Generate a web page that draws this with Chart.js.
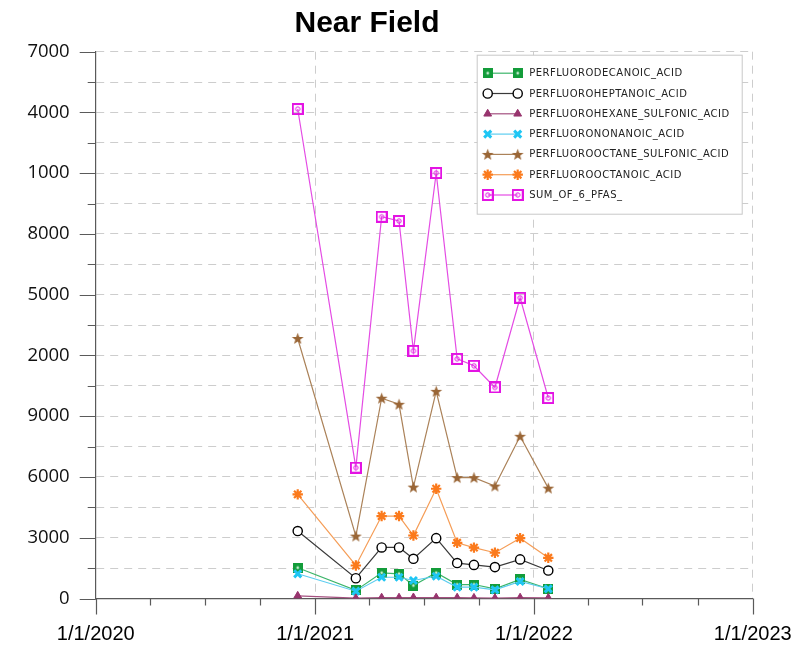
<!DOCTYPE html>
<html>
<head>
<meta charset="utf-8">
<title>Near Field</title>
<script src="https://cdn.jsdelivr.net/npm/chart.js@4.4.1/dist/chart.umd.min.js"></script>
<style>
  html, body { margin: 0; padding: 0; background: #fff; }
  #quadro { width: 811px; height: 650px; overflow: hidden; position: relative; }
  #grafico { position: absolute; left: 27px; top: 0; }
</style>
</head>
<body>
<div id="quadro"><canvas id="grafico" width="784" height="650"></canvas></div>
<script>
// datas das coletas
const datas = ['2020-12-03', '2021-03-10', '2021-04-22', '2021-05-21', '2021-06-14', '2021-07-22',
               '2021-08-26', '2021-09-23', '2021-10-28', '2021-12-09', '2022-01-25'];

// concentrações por composto
const pfda  = [1520, 400, 1270, 1220, 640, 1270, 690, 690, 480, 940, 480];
const pfhpa = [3330, 1000, 2520, 2520, 1960, 2980, 1750, 1660, 1550, 1930, 1380];
const pfhxs = [130, 20, 40, 40, 50, 40, 40, 30, 20, 40, 30];
const pfna  = [1220, 360, 1050, 1050, 890, 1100, 560, 560, 430, 840, 480];
const pfos  = [12840, 3080, 9890, 9590, 5500, 10230, 5970, 5970, 5550, 8010, 5450];
const pfoa  = [5140, 1630, 4070, 4070, 3110, 5420, 2750, 2510, 2260, 2980, 2010];
const soma  = [24170, 6460, 18850, 18640, 12230, 21010, 11830, 11490, 10420, 14850, 9900];

// eixos
const anos = [2020, 2021, 2022, 2023];
const yMax = 27000;
const yPasso = 1500;
const yRotuloPasso = 3000;

function marcador(tam, desenha) {
  const c = document.createElement('canvas');
  c.width = tam;
  c.height = tam;
  desenha(c.getContext('2d'), tam);
  return c;
}

const quadradoVerde = marcador(10, (g, t) => {
  g.fillStyle = '#139c3a';
  g.fillRect(0, 0, t, t);
  g.fillStyle = '#c4ecd0';
  g.beginPath();
  g.arc(t / 2, t / 2, 1.4, 0, Math.PI * 2);
  g.fill();
});

const quadradoMagenta = marcador(12, (g, t) => {
  g.strokeStyle = '#e313e3';
  g.lineWidth = 2;
  g.strokeRect(1, 1, t - 2, t - 2);
  g.lineWidth = 1;
  g.beginPath();
  g.arc(t / 2, t / 2, 2.2, 0, Math.PI * 2);
  g.stroke();
});

const estrela = marcador(13, (g, t) => {
  const c = t / 2, rE = 6.2, rI = 2.6;
  g.fillStyle = '#9a6636';
  g.beginPath();
  for (let i = 0; i < 10; i++) {
    const r = i % 2 === 0 ? rE : rI;
    const ang = -Math.PI / 2 + i * Math.PI / 5;
    g.lineTo(c + r * Math.cos(ang), c + 0.5 + r * Math.sin(ang));
  }
  g.closePath();
  g.fill();
});

const series = [
  { label: 'PERFLUORODECANOIC_ACID', valores: pfda, linha: '#3cb56a', cor: '#139c3a', fundo: '#139c3a', estilo: quadradoVerde, raio: 5, bw: 1 },
  { label: 'PERFLUOROHEPTANOIC_ACID', valores: pfhpa, linha: '#3a3a3a', cor: '#000000', fundo: '#ffffff', estilo: 'circle', raio: 4.6, bw: 1.4 },
  { label: 'PERFLUOROHEXANE_SULFONIC_ACID', valores: pfhxs, linha: '#a4507f', cor: '#98346e', fundo: '#98346e', estilo: 'triangle', raio: 4.5, bw: 1 },
  { label: 'PERFLUORONONANOIC_ACID', valores: pfna, linha: '#5ccdf0', cor: '#1ec6f4', fundo: '#1ec6f4', estilo: 'crossRot', raio: 5, bw: 3 },
  { label: 'PERFLUOROOCTANE_SULFONIC_ACID', valores: pfos, linha: '#ab8259', cor: '#9a6636', fundo: '#9a6636', estilo: estrela, raio: 6, bw: 1 },
  { label: 'PERFLUOROOCTANOIC_ACID', valores: pfoa, linha: '#f59d57', cor: '#fb7a1c', fundo: '#fb7a1c', estilo: 'star', raio: 5.2, bw: 2.2 },
  { label: 'SUM_OF_6_PFAS_', valores: soma, linha: '#e44ce4', cor: '#e313e3', fundo: '#e313e3', estilo: quadradoMagenta, raio: 6, bw: 1 }
];

const tempo = d => Date.parse(d + 'T00:00:00Z');
const inicioAno = a => Date.UTC(a, 0, 1);
const ehAno = v => new Date(v).getUTCMonth() === 0;

// marcas trimestrais no eixo x
const marcasX = [];
for (let a = anos[0]; a < anos[anos.length - 1]; a++) {
  for (let m = 0; m < 12; m += 3) marcasX.push(Date.UTC(a, m, 1));
}
marcasX.push(inicioAno(anos[anos.length - 1]));

const corEixo = '#5a5a5a';
const corGrade = '#cdcdcd';

const titulo = {
  id: 'titulo',
  afterDraw(chart) {
    const ctx = chart.ctx;
    ctx.save();
    ctx.font = 'bold 30px "Liberation Sans", Arial, sans-serif';
    ctx.fillStyle = '#000';
    ctx.textAlign = 'center';
    ctx.textBaseline = 'alphabetic';
    ctx.fillText('Near Field', 340, 31.5);
    ctx.restore();
  }
};

const marcasEixos = {
  id: 'marcasEixos',
  afterDraw(chart) {
    const { ctx, scales: { x, y }, chartArea: a } = chart;
    ctx.save();
    ctx.strokeStyle = corEixo;
    ctx.lineWidth = 1.2;
    ctx.beginPath();
    x.ticks.forEach(t => {
      const px = Math.round(x.getPixelForValue(t.value)) + 0.5;
      const len = ehAno(t.value) ? 16 : 7;
      ctx.moveTo(px, a.bottom);
      ctx.lineTo(px, a.bottom + len);
    });
    y.ticks.forEach(t => {
      const py = Math.round(y.getPixelForValue(t.value)) + 0.5;
      const len = t.value % yRotuloPasso === 0 ? 16 : 8;
      ctx.moveTo(a.left - len, py);
      ctx.lineTo(a.left, py);
    });
    ctx.stroke();
    ctx.restore();
  }
};

const legenda = {
  id: 'legenda',
  afterDraw(chart) {
    const { ctx, chartArea: a } = chart;
    const esq = a.right - 275.5, topo = a.top + 3.5, larg = 265, alt = 159;
    ctx.save();
    ctx.fillStyle = '#fff';
    ctx.fillRect(esq, topo, larg, alt);
    ctx.strokeStyle = '#c8c8c8';
    ctx.lineWidth = 1;
    ctx.strokeRect(esq, topo, larg, alt);
    ctx.font = '10px "DejaVu Sans", Verdana, sans-serif';
    ctx.letterSpacing = '0.5px';
    ctx.textBaseline = 'middle';
    series.forEach((s, i) => {
      const yy = topo + 18 + i * 20.3;
      const x1 = esq + 10.5, x2 = esq + 40.5;
      ctx.strokeStyle = s.linha;
      ctx.lineWidth = 1.2;
      ctx.beginPath();
      ctx.moveTo(x1, yy);
      ctx.lineTo(x2, yy);
      ctx.stroke();
      [x1, x2].forEach(px => {
        ctx.fillStyle = s.fundo;
        ctx.strokeStyle = s.cor;
        ctx.lineWidth = s.bw;
        Chart.helpers.drawPoint(ctx, { pointStyle: s.estilo, radius: s.raio, rotation: 0, borderWidth: s.bw }, px, yy);
      });
      ctx.fillStyle = '#222';
      ctx.fillText(s.label, esq + 52, yy + 0.5);
    });
    ctx.restore();
  }
};

const ctx = document.getElementById('grafico').getContext('2d');
new Chart(ctx, {
  type: 'line',
  data: {
    datasets: series.map((s, i) => ({
      label: s.label,
      data: datas.map((d, k) => ({ x: tempo(d), y: s.valores[k] })),
      borderColor: s.linha,
      borderWidth: 1.2,
      tension: 0,
      pointStyle: s.estilo,
      pointRadius: s.raio,
      pointHoverRadius: s.raio,
      pointBorderWidth: s.bw,
      pointBorderColor: s.cor,
      pointBackgroundColor: s.fundo,
      order: -i
    }))
  },
  options: {
    responsive: false,
    animation: false,
    devicePixelRatio: 1,
    layout: { padding: { top: 51.7, right: 58.3, bottom: 0, left: 0 } },
    plugins: {
      legend: { display: false },
      title: { display: false },
      tooltip: { enabled: false }
    },
    scales: {
      x: {
        type: 'linear',
        min: inicioAno(anos[0]),
        max: inicioAno(anos[anos.length - 1]),
        afterBuildTicks: scale => { scale.ticks = marcasX.map(v => ({ value: v })); },
        afterFit: scale => { scale.height = 51.5; },
        ticks: {
          autoSkip: false,
          maxRotation: 0,
          padding: 8,
          color: '#000',
          font: { family: '"Liberation Sans", Arial, sans-serif', size: 20 },
          callback: v => ehAno(v) ? '1/1/' + new Date(v).getUTCFullYear() : ''
        },
        grid: {
          color: c => (c.tick && ehAno(c.tick.value)) ? corGrade : 'rgba(0,0,0,0)',
          lineWidth: 1,
          drawTicks: true,
          tickLength: 16,
          tickColor: 'rgba(0,0,0,0)'
        },
        border: { color: corEixo, width: 1.2, dash: [8, 6] }
      },
      y: {
        min: 0,
        max: yMax,
        afterFit: scale => { scale.width = 68.7; },
        ticks: {
          stepSize: yPasso,
          autoSkip: false,
          padding: 10,
          color: '#111',
          font: { family: '"Open Sans", sans-serif', size: 18.5 },
          callback: v => v % yRotuloPasso === 0 ? String(v) : ''
        },
        grid: {
          color: corGrade,
          lineWidth: 1,
          drawTicks: true,
          tickLength: 16,
          tickColor: 'rgba(0,0,0,0)'
        },
        border: { color: corEixo, width: 1.2, dash: [8, 6] }
      }
    }
  },
  plugins: [titulo, marcasEixos, legenda]
});
</script>
</body>
</html>
